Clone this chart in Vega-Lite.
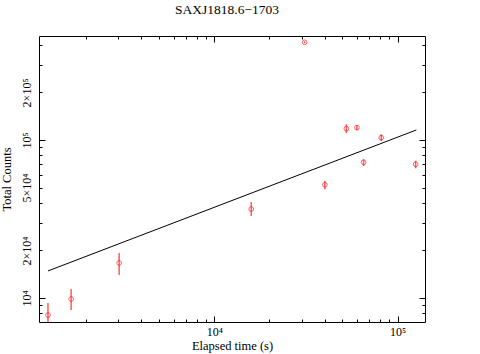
{
  "$schema": "https://vega.github.io/schema/vega-lite/v6.json",
  "autosize": "none",
  "padding": {"left": 39, "top": 36, "right": 55, "bottom": 32},
  "width": 386,
  "height": 286,
  "background": "white",
  "config": {
    "view": {"stroke": null},
    "font": "Liberation Serif",
    "axis": {
      "grid": false,
      "domainColor": "black",
      "tickColor": "black",
      "labelColor": "black",
      "titleColor": "black",
      "labelFont": "Liberation Serif",
      "titleFont": "Liberation Serif",
      "labelFontSize": 12,
      "titleFontSize": 12.5,
      "titleFontWeight": "normal",
      "labelOverlap": false,
      "labelFlush": false,
      "labelBound": false,
      "tickWidth": 1,
      "domainWidth": 1
    }
  },
  "title": {
    "text": "SAXJ1818.6−1703",
    "font": "Liberation Serif",
    "fontSize": 13.5,
    "fontWeight": "normal",
    "color": "black",
    "anchor": "middle",
    "offset": 19,
    "dx": -5
  },
  "datasets": {
    "obs": [
      {"t": 1238, "counts": 7800, "lo": 6300, "hi": 9300},
      {"t": 1656, "counts": 9860, "lo": 8400, "hi": 11400},
      {"t": 3027, "counts": 16670, "lo": 14000, "hi": 19270},
      {"t": 15900, "counts": 36560, "lo": 33000, "hi": 40500},
      {"t": 31100, "counts": 415000, "lo": 409000, "hi": 421000},
      {"t": 40100, "counts": 52100, "lo": 48800, "hi": 55200},
      {"t": 52500, "counts": 117900, "lo": 110300, "hi": 125700},
      {"t": 59950, "counts": 119700, "lo": 115200, "hi": 123900},
      {"t": 65200, "counts": 72300, "lo": 68400, "hi": 75500},
      {"t": 81400, "counts": 103400, "lo": 98600, "hi": 108700},
      {"t": 125400, "counts": 70200, "lo": 66200, "hi": 73900}
    ],
    "fit": [
      {"t": 1238, "model": 14830},
      {"t": 126500, "model": 115700}
    ]
  },
  "resolve": {"axis": {"x": "independent", "y": "independent"}},
  "layer": [
    {
      "data": {"name": "obs"},
      "mark": {"type": "rule", "color": "#ff0000", "strokeWidth": 1.5, "opacity": 0.65, "clip": true},
      "encoding": {
        "x": {
          "field": "t", "type": "quantitative",
          "scale": {"type": "log", "domain": [1106, 141000], "nice": false},
          "axis": {
            "orient": "bottom",
            "title": "Elapsed time (s)",
            "values": [2000, 3000, 4000, 5000, 6000, 7000, 8000, 9000, 20000, 30000, 40000, 50000, 60000, 70000, 80000, 90000, 10000, 100000],
            "labelExpr": "datum.value == 10000 ? '10⁴' : datum.value == 100000 ? '10⁵' : ''",
            "tickSize": -3,
            "labelPadding": 7,
            "titlePadding": 2
          }
        },
        "y": {
          "field": "lo", "type": "quantitative",
          "scale": {"type": "log", "domain": [7048, 455000], "nice": false},
          "axis": {
            "orient": "left",
            "title": "Total Counts",
            "values": [8000, 9000, 10000, 20000, 30000, 40000, 50000, 60000, 70000, 80000, 90000, 100000, 200000, 300000, 400000],
            "labelExpr": "datum.value == 10000 ? '10⁴' : datum.value == 20000 ? '2×10⁴' : datum.value == 50000 ? '5×10⁴' : datum.value == 100000 ? '10⁵' : datum.value == 200000 ? '2×10⁵' : ''",
            "labelAngle": -90,
            "labelAlign": "center",
            "labelBaseline": "bottom",
            "tickSize": -3,
            "labelPadding": 9,
            "titlePadding": 7
          }
        },
        "y2": {"field": "hi"}
      }
    },
    {
      "data": {"name": "obs"},
      "mark": {"type": "point", "shape": "circle", "filled": false, "color": "#ff0000", "size": 22, "strokeWidth": 1, "opacity": 0.6},
      "encoding": {
        "x": {
          "field": "t", "type": "quantitative",
          "axis": {"orient": "bottom", "title": null, "values": [10000, 100000], "labels": false, "tickSize": -6, "domain": false}
        },
        "y": {
          "field": "counts", "type": "quantitative",
          "axis": {"orient": "left", "title": null, "values": [10000, 100000], "labels": false, "tickSize": -6, "domain": false}
        }
      }
    },
    {
      "data": {"name": "fit"},
      "mark": {"type": "line", "color": "black", "strokeWidth": 1},
      "encoding": {
        "x": {
          "field": "t", "type": "quantitative",
          "axis": {"orient": "top", "title": null, "values": [2000, 3000, 4000, 5000, 6000, 7000, 8000, 9000, 20000, 30000, 40000, 50000, 60000, 70000, 80000, 90000], "labels": false, "tickSize": -3}
        },
        "y": {
          "field": "model", "type": "quantitative",
          "axis": {"orient": "right", "title": null, "values": [8000, 9000, 20000, 30000, 40000, 50000, 60000, 70000, 80000, 90000, 200000, 300000, 400000], "labels": false, "tickSize": -3}
        }
      }
    },
    {
      "data": {"name": "fit"},
      "mark": {"type": "point", "opacity": 0},
      "encoding": {
        "x": {
          "field": "t", "type": "quantitative",
          "axis": {"orient": "top", "title": null, "values": [10000, 100000], "labels": false, "tickSize": -6, "domain": false}
        },
        "y": {
          "field": "model", "type": "quantitative",
          "axis": {"orient": "right", "title": null, "values": [10000, 100000], "labels": false, "tickSize": -6, "domain": false}
        }
      }
    }
  ]
}
